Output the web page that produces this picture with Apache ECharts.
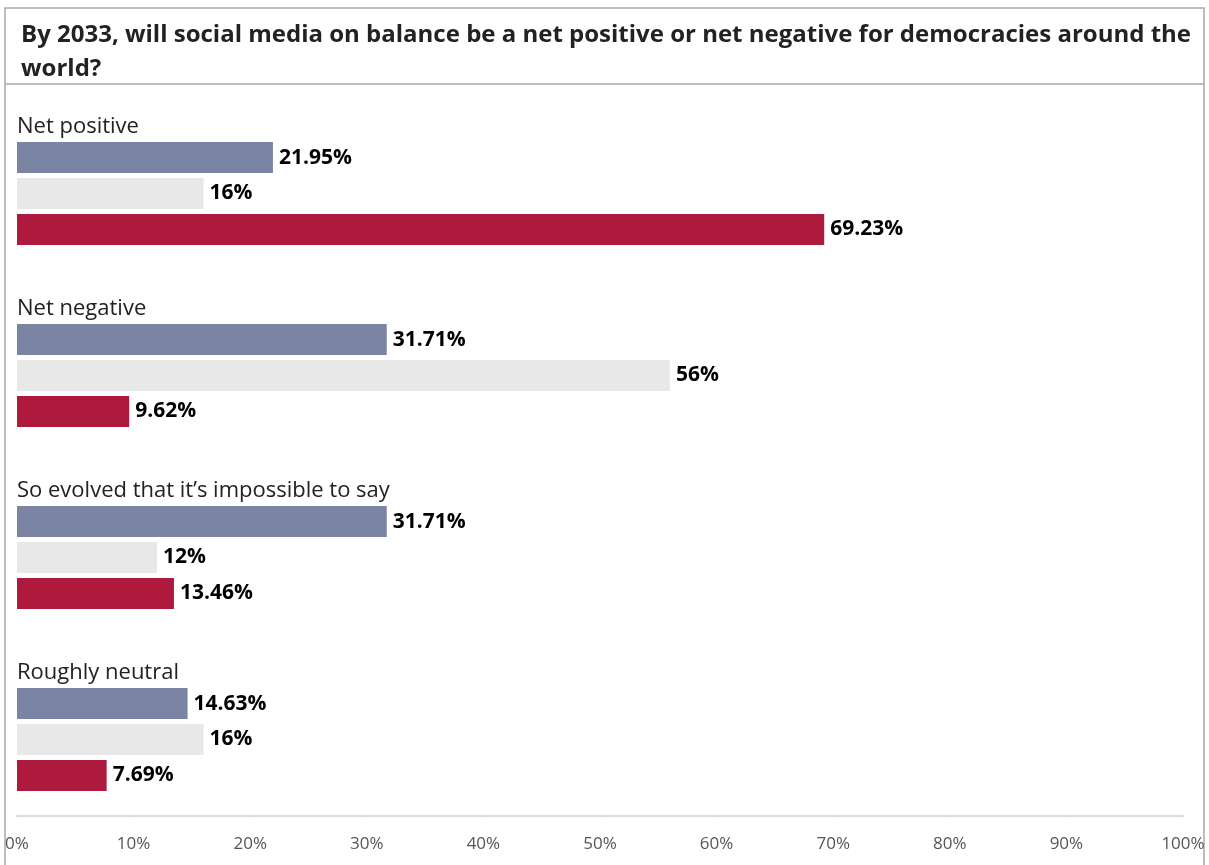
<!DOCTYPE html>
<html><head><meta charset="utf-8">
<script src="https://cdn.jsdelivr.net/npm/echarts@6/dist/echarts.min.js"></script>
<style>html,body{margin:0;padding:0;background:#fff}#c{width:1209px;height:865px}</style>
</head><body><div id="c"></div>
<script>
const titleText = 'By 2033, will social media on balance be a net positive or net negative for democracies around the\nworld?';
const categories = ['Net positive', 'Net negative', 'So evolved that it\u2019s impossible to say', 'Roughly neutral'];
const seriesA = [21.95, 31.71, 31.71, 14.63];
const seriesB = [16, 56, 12, 16];
const seriesC = [69.23, 9.62, 13.46, 7.69];
const tickLabels = ['0%','10%','20%','30%','40%','50%','60%','70%','80%','90%','100%'];

const FONT = 'Open Sans';
const colors = ['#7b84a3', '#e8e8e8', '#ae1a3e'];
const chart = echarts.init(document.getElementById('c'), null, {renderer: 'canvas'});
function mk(name, data, color) {
  return {
    type: 'bar', name, data, barWidth: 31, barGap: '16%',
    itemStyle: {color},
    label: {show: true, position: 'right', distance: 6, color: '#000',
      fontFamily: FONT, fontWeight: 'bold', fontSize: 21,
      formatter: p => p.value + '%'}
  };
}
const baseGraphic = [
  {type: 'rect', shape: {x: 5, y: 8, width: 1199, height: 900}, style: {fill: 'none', stroke: '#a8a8a8', lineWidth: 1.5}, silent: true, z: -1},
  {type: 'line', shape: {x1: 5, y1: 84, x2: 1204, y2: 84}, style: {stroke: '#a8a8a8', lineWidth: 1.5}, silent: true}
];
chart.setOption({
  animation: false,
  title: {text: titleText, left: 16, top: 13,
    textStyle: {fontFamily: FONT, fontWeight: 'bold', fontSize: 24, color: '#222', lineHeight: 34}},
  graphic: baseGraphic,
  grid: {left: 17, right: 26, top: 102.5, height: 728, containLabel: false},
  xAxis: {type: 'value', min: 0, max: 100, interval: 10, offset: -15,
    axisLine: {show: true, lineStyle: {color: '#dddddd', width: 2}},
    axisTick: {show: true, length: 2, lineStyle: {color: '#dddddd'}},
    splitLine: {show: false},
    axisLabel: {margin: 20, color: '#555', fontFamily: FONT, fontSize: 17,
      formatter: (v) => tickLabels[Math.round(v / 10)]}},
  yAxis: {type: 'category', data: categories, inverse: true,
    axisLine: {show: false}, axisTick: {show: false}, splitLine: {show: false},
    axisLabel: {show: false}},
  series: [mk('A', seriesA, colors[0]), mk('B', seriesB, colors[1]), mk('C', seriesC, colors[2])]
});
const catGraphics = categories.map((c, i) => {
  const y = chart.convertToPixel({yAxisIndex: 0}, c);
  return {type: 'text', x: 17, y: y - 67, silent: true,
    style: {text: c, fill: '#222', font: '22px "' + FONT + '"', verticalAlign: 'middle', align: 'left'}};
});
chart.setOption({graphic: baseGraphic.concat(catGraphics)});
</script></body></html>
